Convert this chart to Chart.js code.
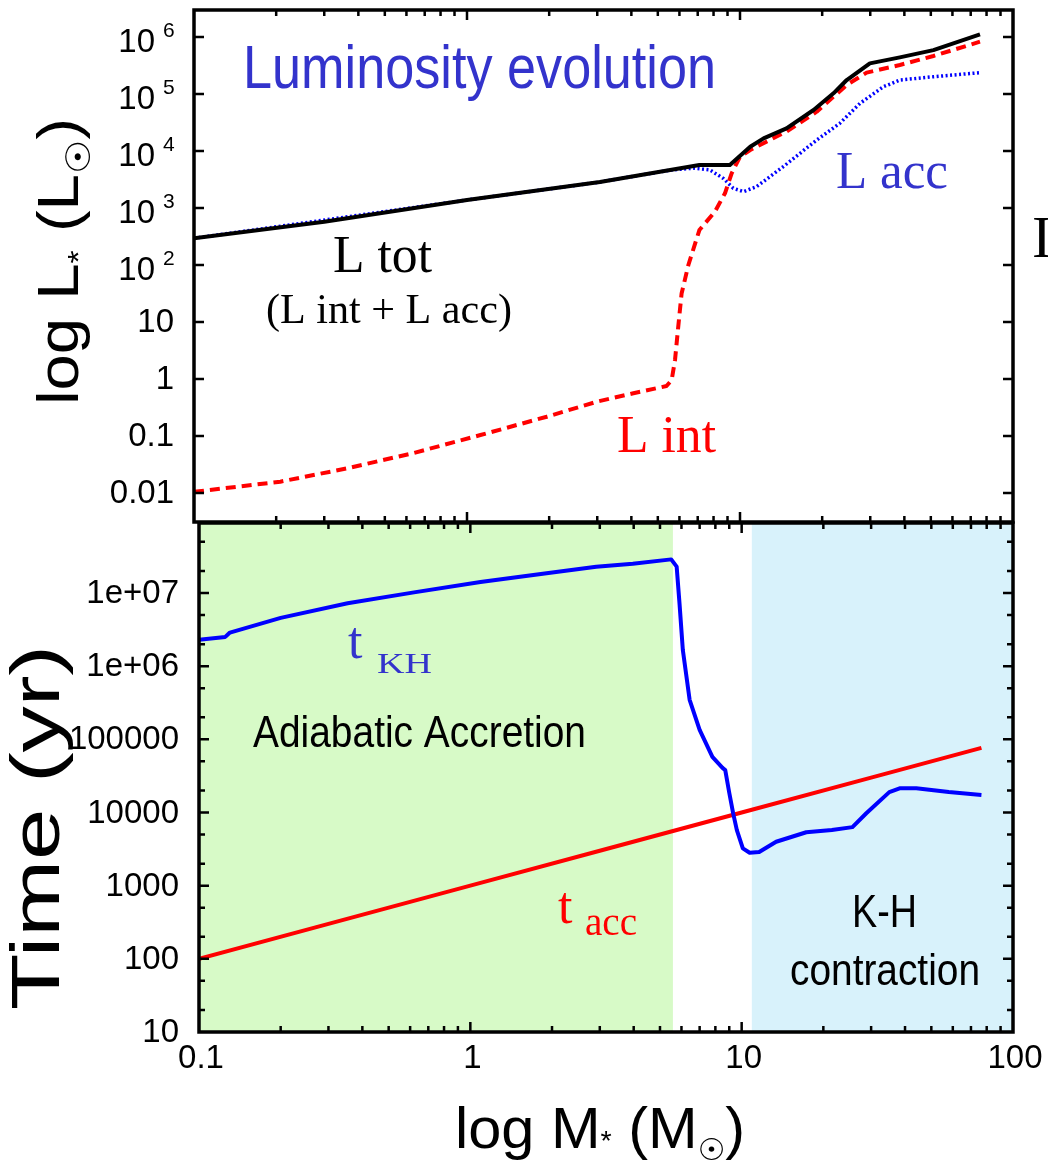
<!DOCTYPE html>
<html>
<head>
<meta charset="utf-8">
<script src="https://cdn.jsdelivr.net/npm/chart.js@4.4.1/dist/chart.umd.min.js"></script>
<style>
  html, body { margin: 0; padding: 0; background: #fff; }
  #wrap { position: relative; width: 1048px; height: 1161px; overflow: hidden; }
  canvas { position: absolute; left: 0; }
  #lum { top: 0; }
  #time { top: 515px; }
</style>
</head>
<body>
<div id="wrap">
  <canvas id="lum" width="1048" height="530"></canvas>
  <canvas id="time" width="1048" height="646"></canvas>
</div>
<script>
// axis ranges and tick labels
const massRange = [0.1, 100];
const lumRange = [0.0031, 2.98e6];
const timeRange = [10, 9.05e7];
const massTicks = [0.1, 1, 10, 100];
const massTickLabels = ['0.1', '1', '10', '100'];
const lumTicks = [0.01, 0.1, 1, 10, 1e2, 1e3, 1e4, 1e5, 1e6];
const lumTickLabels = ['0.01', '0.1', '1', '10', '10^2', '10^3', '10^4', '10^5', '10^6'];
const timeTicks = [10, 100, 1000, 1e4, 1e5, 1e6, 1e7];
const timeTickLabels = ['10', '100', '1000', '10000', '100000', '1e+06', '1e+07'];

// L tot (L int + L acc), in Lsun
const massTot = [0.1, 0.3, 1, 3.07, 7.1, 9.18, 10.9, 12.2, 14.8, 18.6, 22.0, 24.6, 29.9, 38.5, 51.1, 75.7];
const lumTot = [295, 575, 1380, 2860, 5680, 5680, 1.19e4, 1.67e4, 2.5e4, 5.25e4, 1.03e5, 1.76e5, 3.45e5, 4.4e5, 5.9e5, 1.11e6];

// L int
const massInt = [0.1, 0.207, 0.364, 0.636, 1.12, 1.96, 2.99, 4.07, 5.38, 5.62, 5.78, 5.94, 6.11, 6.47, 7.1, 8.09, 8.81, 9.32, 10.0, 10.9, 12.5, 14.8, 19.1, 24.6, 29.1, 38.5, 51.1, 75.7];
const lumInt = [0.0105, 0.0158, 0.0271, 0.0501, 0.104, 0.218, 0.40, 0.562, 0.753, 0.96, 2.15, 8.28, 31.6, 100, 411, 863, 1810, 4070, 7940, 1.04e4, 1.46e4, 2.19e4, 4.9e4, 1.44e5, 2.37e5, 3.23e5, 4.65e5, 8.28e5];

// L acc
const massAcc = [0.1, 1, 3.07, 5.5, 6.75, 7.76, 8.69, 9.45, 10.3, 11.5, 14.4, 19.1, 23.2, 27.5, 33.5, 38.5, 51.1, 75.7];
const lumAcc = [295, 1380, 2860, 4600, 5000, 4650, 3310, 2220, 1940, 2370, 5310, 1.56e4, 3.06e4, 6.85e4, 1.34e5, 1.76e5, 2.01e5, 2.37e5];

// Kelvin-Helmholtz time, yr
const massKH = [0.1, 0.125, 0.13, 0.2, 0.353, 0.62, 1.09, 1.91, 2.91, 3.97, 5.5, 5.76, 5.9, 6.07, 6.43, 7.0, 7.8, 8.5, 8.7, 9.0, 9.3, 9.6, 10.1, 10.7, 11.6, 13.4, 17.3, 21.5, 25.6, 28.8, 35, 38.2, 44, 58, 76.5];
const timeKH = [2.29e6, 2.51e6, 2.88e6, 4.57e6, 7.24e6, 1.02e7, 1.41e7, 1.86e7, 2.29e7, 2.51e7, 2.88e7, 2.29e7, 7.24e6, 1.66e6, 3.47e5, 1.35e5, 5.75e4, 4.07e4, 3.8e4, 1.86e4, 9.8e3, 5.75e3, 3.24e3, 2.82e3, 2.88e3, 3.98e3, 5.37e3, 5.75e3, 6.31e3, 9.77e3, 1.9e4, 2.14e4, 2.14e4, 1.9e4, 1.74e4];

// accretion time, yr
const massTacc = [0.1, 0.3, 1, 3, 10, 30, 76.5];
const timeAcc = [100, 300, 1000, 3000, 10000, 30000, 76500];

// evolutionary phases (Msun)
const adiabaticPhase = [0.1, 5.58];
const khPhase = [10.9, 100];

const SANS = '"Liberation Sans", Arial, sans-serif';
const SERIF = '"Liberation Serif", "Times New Roman", serif';
const SUN = '"DejaVu Sans", sans-serif';
const BLUE_TXT = '#3333cc';

function pts(xs, ys) {
    return xs.map((x, i) => ({ x: x, y: ys[i] }));
}

function decades(lo, hi, mults) {
    const out = [];
    for (let d = lo; d < hi * 1.0001; d *= 10) {
        mults.forEach(m => out.push(d * m));
    }
    return out;
}

// one string, squeezed or stretched to a given width
function fitText(ctx, text, x, y, font, color, width) {
    ctx.save();
    ctx.font = font;
    ctx.fillStyle = color;
    ctx.textAlign = 'left';
    ctx.textBaseline = 'alphabetic';
    const w = ctx.measureText(text).width;
    ctx.translate(x, y);
    if (width) ctx.scale(width / w, 1);
    ctx.fillText(text, 0, 0);
    ctx.restore();
}

// text built from pieces (sub/superscripts), fitted to a length, optionally turned
function runText(ctx, parts, x, y, length, angle) {
    ctx.save();
    ctx.translate(x, y);
    ctx.rotate(angle || 0);
    let total = 0;
    parts.forEach(p => { ctx.font = p.font; p.w = ctx.measureText(p.text).width; total += p.w; });
    ctx.scale(length / total, 1);
    ctx.fillStyle = '#000';
    ctx.textAlign = 'left';
    ctx.textBaseline = 'alphabetic';
    let cx = 0;
    parts.forEach(p => { ctx.font = p.font; ctx.fillText(p.text, cx, p.dy || 0); cx += p.w; });
    ctx.restore();
}

// inward ticks on all four sides plus the black frame
function drawFrame(chart, yMajor, yMinor) {
    const ctx = chart.ctx, a = chart.chartArea;
    const xs = chart.scales.x, ys = chart.scales.y;
    ctx.save();
    ctx.strokeStyle = '#000';
    ctx.lineWidth = 2.5;
    ctx.beginPath();
    const xMinor = decades(0.1, 10, [2, 3, 4, 5, 6, 7, 8, 9]);
    const mark = (scale, vals, len, horiz) => {
        vals.forEach(v => {
            const p = scale.getPixelForValue(v);
            if (horiz) {
                if (p < a.left + 2 || p > a.right - 2) return;
                ctx.moveTo(p, a.top); ctx.lineTo(p, a.top + len);
                ctx.moveTo(p, a.bottom); ctx.lineTo(p, a.bottom - len);
            } else {
                if (p < a.top + 2 || p > a.bottom - 2) return;
                ctx.moveTo(a.left, p); ctx.lineTo(a.left + len, p);
                ctx.moveTo(a.right, p); ctx.lineTo(a.right - len, p);
            }
        });
    };
    mark(xs, massTicks, 10, true);
    mark(xs, xMinor, 6, true);
    mark(ys, yMajor, 10, false);
    mark(ys, yMinor, 6, false);
    ctx.stroke();
    ctx.lineWidth = 3.5;
    ctx.strokeRect(a.left, a.top, a.right - a.left, a.bottom - a.top);
    ctx.restore();
}

function lineSet(data, color, width, dash) {
    return {
        data: data,
        borderColor: color,
        borderWidth: width,
        borderDash: dash || [],
        pointRadius: 0,
        tension: 0,
        fill: false,
        borderJoinStyle: 'round'
    };
}

function baseOptions(xRange, yRange, padding) {
    return {
        responsive: false,
        devicePixelRatio: 1,
        animation: false,
        events: [],
        layout: { padding: padding },
        plugins: { legend: { display: false }, tooltip: { enabled: false } },
        scales: {
            x: { type: 'logarithmic', min: xRange[0], max: xRange[1], bounds: 'data', display: false },
            y: { type: 'logarithmic', min: yRange[0], max: yRange[1], bounds: 'data', display: false }
        }
    };
}

// ---- luminosity panel ----
const lumDecor = {
    id: 'lumDecor',
    afterDatasetsDraw(chart) {
        drawFrame(chart, lumTicks, []);
    },
    afterDraw(chart) {
        const ctx = chart.ctx, ys = chart.scales.y;
        ctx.save();
        ctx.fillStyle = '#000';
        ctx.textBaseline = 'middle';
        lumTicks.forEach((v, i) => {
            const y = ys.getPixelForValue(v);
            const lab = lumTickLabels[i];
            if (lab.indexOf('^') > 0) {
                const parts = lab.split('^');
                ctx.font = '33px ' + SANS;
                ctx.textAlign = 'right';
                ctx.fillText(parts[0], 155, y + 6);
                ctx.font = '21px ' + SANS;
                ctx.textAlign = 'left';
                ctx.fillText(parts[1], 163, y - 6);
            } else {
                ctx.font = '33px ' + SANS;
                ctx.textAlign = 'right';
                ctx.fillText(lab, 174, y + 1);
            }
        });
        ctx.restore();

        runText(ctx, [
            { text: 'log L', font: '58px ' + SANS },
            { text: '*', font: '30px ' + SANS, dy: 10 },
            { text: ' (L', font: '58px ' + SANS },
            { text: '\u2609', font: '34px ' + SUN, dy: 12 },
            { text: ')', font: '58px ' + SANS }
        ], 78, 405, 287, -Math.PI / 2);

        fitText(ctx, 'Luminosity evolution', 243, 88, '62px ' + SANS, BLUE_TXT, 473);
        fitText(ctx, 'L tot', 333, 272, '53px ' + SERIF, '#000', 99);
        fitText(ctx, '(L int + L acc)', 266, 323, '42px ' + SERIF, '#000', 246);
        fitText(ctx, 'L int', 617, 452, '53px ' + SERIF, '#ff0000', 99);
        fitText(ctx, 'L acc', 836, 188, '53px ' + SERIF, BLUE_TXT, 112);
        fitText(ctx, 'I', 1032, 257, '59px ' + SERIF, '#000');
    }
};

new Chart(document.getElementById('lum'), {
    type: 'line',
    data: {
        datasets: [
            lineSet(pts(massTot, lumTot), '#000000', 4),
            lineSet(pts(massInt, lumInt), '#ff0000', 4, [10, 6]),
            lineSet(pts(massAcc, lumAcc), '#0000ff', 3.5, [2, 2.5])
        ]
    },
    options: baseOptions(massRange, lumRange, { left: 194, right: 35, top: 10, bottom: 8 }),
    plugins: [lumDecor]
});

// ---- timescale panel ----
const timeDecor = {
    id: 'timeDecor',
    beforeDatasetsDraw(chart) {
        const ctx = chart.ctx, a = chart.chartArea, xs = chart.scales.x;
        ctx.save();
        ctx.fillStyle = '#d7fac7';
        let x0 = xs.getPixelForValue(adiabaticPhase[0]), x1 = xs.getPixelForValue(adiabaticPhase[1]);
        ctx.fillRect(x0, a.top, x1 - x0, a.bottom - a.top);
        ctx.fillStyle = '#d8f2fb';
        x0 = xs.getPixelForValue(khPhase[0]); x1 = xs.getPixelForValue(khPhase[1]);
        ctx.fillRect(x0, a.top, x1 - x0, a.bottom - a.top);
        ctx.restore();
    },
    afterDatasetsDraw(chart) {
        drawFrame(chart, timeTicks, decades(10, 1e7, [2, 5]));
    },
    afterDraw(chart) {
        const ctx = chart.ctx, xs = chart.scales.x, ys = chart.scales.y;
        ctx.save();
        ctx.fillStyle = '#000';
        ctx.font = '33px ' + SANS;
        ctx.textBaseline = 'middle';
        ctx.textAlign = 'right';
        timeTicks.forEach((v, i) => {
            ctx.fillText(timeTickLabels[i], 179, ys.getPixelForValue(v) + 1);
        });
        ctx.textAlign = 'center';
        massTicks.forEach((v, i) => {
            ctx.fillText(massTickLabels[i], xs.getPixelForValue(v) + 2, 544);
        });
        ctx.restore();

        runText(ctx, [
            { text: 'Time (yr)', font: '68px ' + SANS }
        ], 59, 495, 365, -Math.PI / 2);

        runText(ctx, [
            { text: 'log M', font: '58px ' + SANS },
            { text: '*', font: '28px ' + SANS, dy: 2 },
            { text: ' (M', font: '58px ' + SANS },
            { text: '\u2609', font: '30px ' + SUN, dy: 12 },
            { text: ')', font: '58px ' + SANS }
        ], 455, 633, 290, 0);

        fitText(ctx, 't', 348, 143, '52px ' + SERIF, BLUE_TXT);
        fitText(ctx, 'KH', 377, 158, '30px ' + SERIF, BLUE_TXT, 55);
        fitText(ctx, 'Adiabatic Accretion', 253, 232, '45px ' + SANS, '#000', 333);
        fitText(ctx, 't', 558, 408, '52px ' + SERIF, '#ff0000');
        fitText(ctx, 'acc', 585, 420, '40px ' + SERIF, '#ff0000', 52);
        fitText(ctx, 'K-H', 852, 412, '47px ' + SANS, '#000', 65);
        fitText(ctx, 'contraction', 790, 470, '45px ' + SANS, '#000', 190);
    }
};

new Chart(document.getElementById('time'), {
    type: 'line',
    data: {
        datasets: [
            lineSet(pts(massKH, timeKH), '#0000ff', 4),
            lineSet(pts(massTacc, timeAcc), '#ff0000', 4)
        ]
    },
    options: baseOptions(massRange, timeRange, { left: 199, right: 35, top: 8, bottom: 129 }),
    plugins: [timeDecor]
});
</script>
</body>
</html>
